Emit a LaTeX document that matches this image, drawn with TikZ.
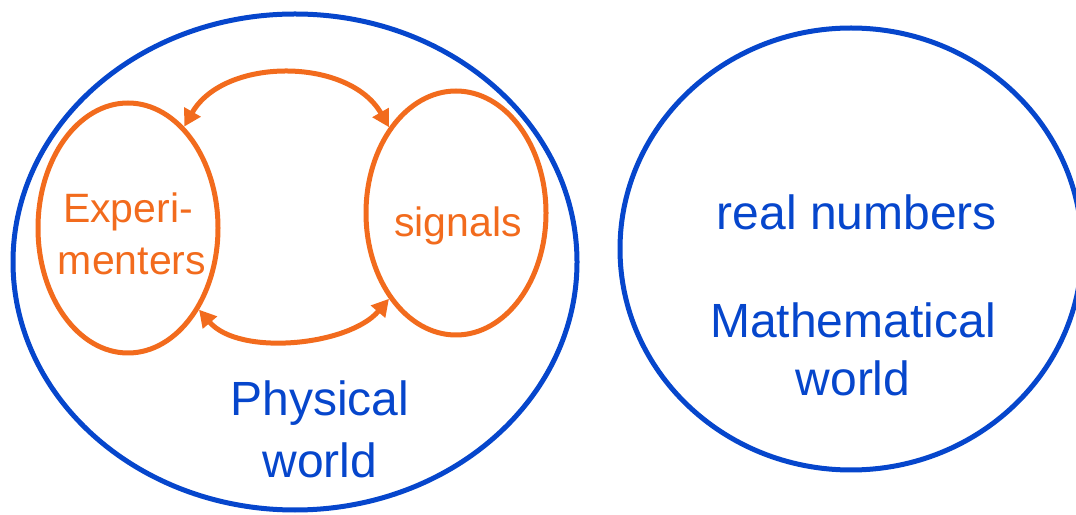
\documentclass[tikz,border=0pt]{standalone}
\usepackage{fontspec}
\setmainfont{Liberation Sans}
\usetikzlibrary{shapes.geometric,arrows.meta}
\definecolor{bblue}{HTML}{0646CC}
\definecolor{oorange}{HTML}{F26B1D}
\tikzset{
  bigell/.style={draw=bblue,line width=5pt,ellipse,inner sep=0pt},
  smallell/.style={draw=oorange,line width=5pt,ellipse,inner sep=0pt},
  btext/.style={text=bblue,font=\fontsize{48}{56}\selectfont,inner sep=0pt},
  otext/.style={text=oorange,font=\fontsize{41}{48}\selectfont,inner sep=0pt},
  link/.style={draw=oorange,line width=5pt,{Triangle[length=17pt,width=18pt]}-{Triangle[length=17pt,width=18pt]}}
}
\begin{document}
\begin{tikzpicture}[x=1pt,y=1pt]
\useasboundingbox (0,0) rectangle (1076,514);
\node[bigell,minimum width=564pt,minimum height=496pt] (phys) at (295,252) {};
\node[bigell,minimum width=462pt,minimum height=442pt] (math) at (851,265) {};
\node[smallell,minimum width=180pt,minimum height=250pt] (exp) at (128,286) {};
\node[smallell,minimum width=180pt,minimum height=244pt] (sig) at (456,301) {};
\node[otext] (t1) at (128,302) {Experi-};
\node[otext] (t2) at (132,253) {menters};
\node[otext] (t3) at (458,288) {signals};
\node[btext] (t4) at (857,302) {real numbers};
\node[btext] (t5) at (853,194) {Mathematical};
\node[btext] (t6) at (853,136) {world};
\node[btext] (t7) at (320,111) {Physical};
\node[btext] (t8) at (320,54) {world};
\draw[link] (exp.61) .. controls +(40,70) and +(-40,70) .. (sig.128);
\draw[link] (exp.-49) .. controls +(40,-47) and +(-40,-47) .. (sig.-128);
\end{tikzpicture}
\end{document}
